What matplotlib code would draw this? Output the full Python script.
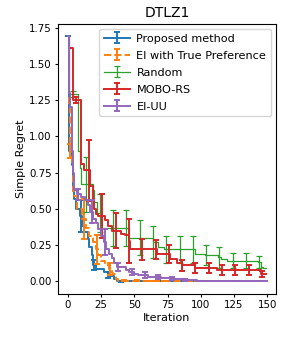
import numpy as np
import matplotlib
matplotlib.use("Agg")
import matplotlib.pyplot as plt
from matplotlib.container import ErrorbarContainer

# mean simple regret, stored as (iteration where value changes, value)
prop_it = [0, 1, 3, 4, 5, 6, 9, 11, 12, 15, 16, 18, 19, 21, 27, 30, 31, 35, 37, 40, 149]
prop_mean = [1.69, 0.90, 0.80, 0.62, 0.57, 0.50, 0.45, 0.385, 0.34, 0.29, 0.24, 0.18,
             0.11, 0.086, 0.062, 0.045, 0.034, 0.015, 0.005, 0.0, 0.0]
prop_err = [0.0, 0.11, 0.035, 0.02, 0.002, 0, 0, 0, 0, 0, 0, 0, 0, 0, 0]

true_it = [0, 1, 2, 3, 4, 5, 7, 11, 14, 16, 19, 21, 23, 25, 28, 31, 33, 34, 36, 38, 55, 149]
true_mean = [1.69, 1.21, 0.90, 0.80, 0.62, 0.59, 0.50, 0.43, 0.37, 0.315, 0.27, 0.22,
             0.18, 0.143, 0.11, 0.085, 0.06, 0.05, 0.015, 0.005, 0.0, 0.0]
true_err = [0.05, 0.14, 0.10, 0.04, 0.003, 0.002, 0, 0, 0, 0, 0, 0, 0, 0, 0]

rand_it = [0, 1, 8, 9, 10, 19, 20, 22, 25, 46, 64, 68, 72, 96, 103, 113, 115, 120,
           143, 145, 147, 149]
rand_mean = [1.69, 1.29, 0.90, 0.78, 0.67, 0.63, 0.55, 0.47, 0.37, 0.30, 0.27, 0.24,
             0.22, 0.19, 0.18, 0.165, 0.154, 0.143, 0.135, 0.097, 0.09, 0.09]
rand_err = [0.02, 0.19, 0.13, 0.125, 0.125, 0.12, 0.11, 0.09, 0.09, 0.09, 0.07, 0.07,
            0.05, 0.05, 0.04]

mobo_it = [0, 1, 4, 10, 12, 17, 19, 20, 21, 23, 28, 30, 33, 40, 43, 46, 47, 67, 77, 82,
           86, 96, 112, 145, 149]
mobo_mean = [1.69, 1.61, 1.25, 0.81, 0.765, 0.66, 0.57, 0.50, 0.466, 0.45, 0.42, 0.38,
             0.35, 0.33, 0.32, 0.28, 0.22, 0.19, 0.155, 0.13, 0.11, 0.092, 0.08, 0.05, 0.05]
mobo_err = [0.02, 0.21, 0.15, 0.12, 0.15, 0.07, 0.065, 0.06, 0.04, 0.037, 0.035, 0.035,
            0.035, 0.035, 0.023]

eiuu_it = [0, 1, 2, 3, 4, 5, 7, 10, 13, 15, 17, 19, 21, 23, 25, 27, 29, 31, 33, 35, 37,
           44, 46, 50, 53, 60, 70, 80, 88, 97, 149]
eiuu_mean = [1.69, 1.30, 1.20, 0.90, 0.75, 0.63, 0.60, 0.58, 0.56, 0.53, 0.48, 0.43,
             0.40, 0.36, 0.31, 0.27, 0.22, 0.19, 0.16, 0.13, 0.10, 0.08, 0.065, 0.05,
             0.043, 0.03, 0.02, 0.015, 0.01, 0.0, 0.0]
eiuu_err = [0.04, 0.08, 0.09, 0.03, 0.022, 0.022, 0.015, 0.01, 0.006, 0, 0, 0, 0, 0, 0]

series = [
    ("Proposed method", prop_it, prop_mean, prop_err, "tab:blue", "-", 1.4, 0),
    ("EI with True Preference", true_it, true_mean, true_err, "tab:orange", "--", 1.4, 2),
    ("Random", rand_it, rand_mean, rand_err, "tab:green", "-", 0.9, 4),
    ("MOBO-RS", mobo_it, mobo_mean, mobo_err, "tab:red", "-", 1.4, 6),
    ("EI-UU", eiuu_it, eiuu_mean, eiuu_err, "tab:purple", "-", 1.4, 8),
]

fig, ax = plt.subplots(figsize=(2.91, 3.39), dpi=100)
fig.subplots_adjust(left=0.199, right=0.948, bottom=0.133, top=0.929)

handles = []
for name, it, mean, err, color, ls, lw, off in series:
    it = np.array(it)
    mean = np.array(mean)
    line, = ax.plot(it, mean, drawstyle="steps-post", color=color, ls=ls, lw=lw)
    err_it = np.arange(off, 150, 10)
    err_y = mean[np.searchsorted(it, err_it, side="right") - 1]
    eb = ax.errorbar(err_it, err_y, yerr=err, fmt="none", ecolor=color,
                     elinewidth=lw, capsize=2.2, capthick=lw)
    handles.append(ErrorbarContainer((line, eb.lines[1], eb.lines[2]),
                                     has_yerr=True, label=name))

ax.set_title("DTLZ1", fontsize=10, pad=5)
ax.set_xlabel("Iteration", fontsize=8, labelpad=2)
ax.set_ylabel("Simple Regret", fontsize=8, labelpad=2)
ax.tick_params(labelsize=7.4, length=2.5, pad=2)
ax.legend(handles=handles, loc="upper right", fontsize=8.1,
          borderaxespad=0.45, handlelength=2.3, handletextpad=0.6,
          labelspacing=0.62)
fig.savefig("out.png", dpi=100)
